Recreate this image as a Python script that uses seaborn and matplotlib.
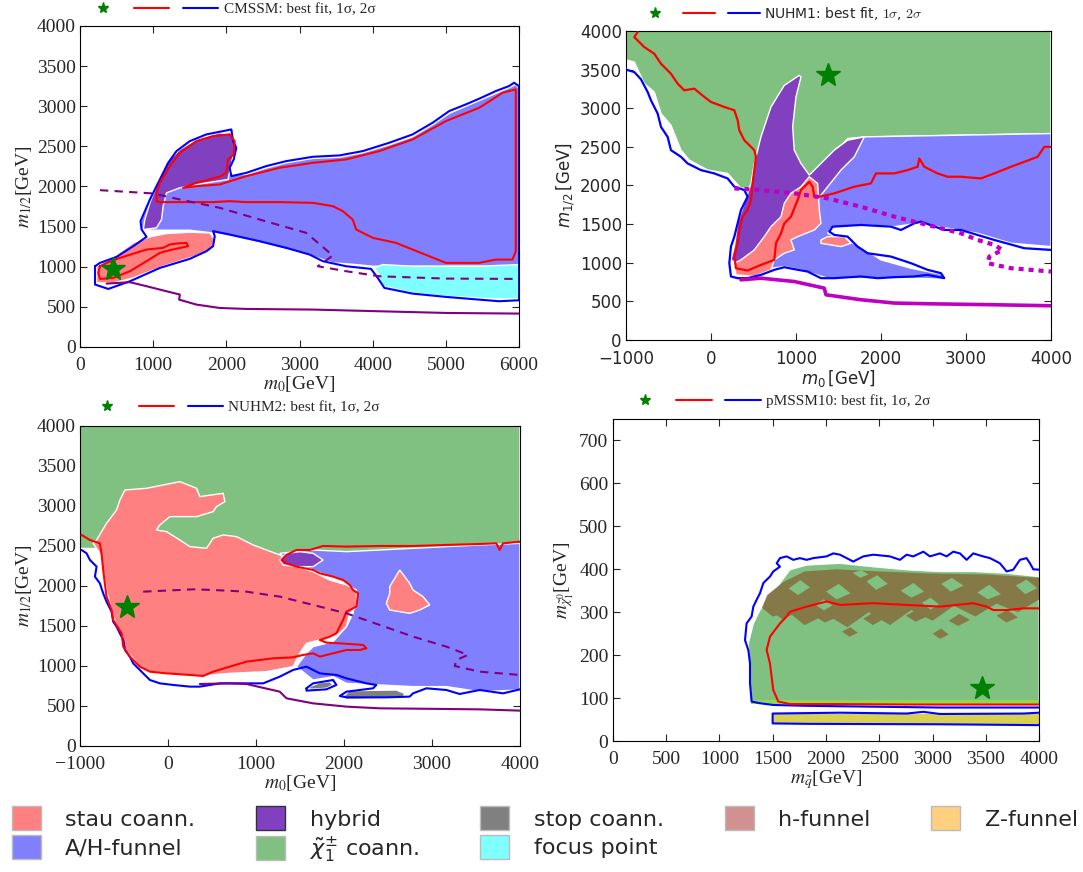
import matplotlib
matplotlib.use('Agg')
import matplotlib.pyplot as plt
import seaborn as sns
from matplotlib.lines import Line2D
from matplotlib.patches import Patch
from matplotlib.font_manager import FontProperties

sns.set_style('ticks')
plt.rcParams['font.family'] = ['DejaVu Sans']

# region colours
C_STAU = '#ff8080'
C_AH = '#8080ff'
C_HYB = '#8040c0'
C_STOP = '#808080'
C_HFUN = '#d29191'
C_ZFUN = '#ffd080'
C_CHI = '#80c080'
C_FOCUS = '#80ffff'
C_MIX = '#857a47'

# ---------------- CMSSM (m0, m1/2) ----------------
cmssm_best = (445, 973)
cmssm_ah = [(841, 1464), (832, 1568), (890, 1692), (960, 1838), (1050, 2004), (1120, 2129), (1210, 2295),
            (1320, 2441), (1500, 2540), (1720, 2620), (1950, 2660), (2060, 2680), (2080, 2560), (2050, 2230),
            (2070, 2150), (2273, 2150), (2545, 2230), (2818, 2295), (3182, 2350), (3545, 2365), (3864, 2420),
            (4227, 2520), (4545, 2620), (4818, 2770), (5045, 2910), (5273, 3000), (5455, 3070), (5682, 3160),
            (5864, 3230), (5950, 3270), (6000, 3230), (6000, 1006), (4000, 1006), (3773, 1027), (3455, 1048),
            (3182, 1131), (2818, 1214), (2455, 1297), (2045, 1380), (1818, 1420), (1500, 1455), (1000, 1455)]
cmssm_hybrid = [(864, 1464), (886, 1588), (955, 1796), (1045, 2004), (1182, 2295), (1364, 2461), (1591, 2586),
                (1909, 2669), (2068, 2649), (2136, 2503), (2091, 2378), (2023, 2087), (1591, 2025), (1364, 1983),
                (1182, 1921), (1136, 1755), (1114, 1588), (1045, 1484)]
cmssm_stau = [(227, 1006), (455, 1123), (727, 1297), (955, 1372), (1182, 1414), (1500, 1430), (1773, 1422),
              (1841, 1339), (1795, 1214), (1545, 1123), (1136, 1006), (727, 861), (455, 798), (227, 798)]
cmssm_focus = [(4023, 985), (4136, 1027), (4545, 1006), (5000, 1006), (5455, 1006), (6000, 1027), (6000, 599),
               (5682, 599), (5000, 632), (4545, 674), (4136, 757), (4068, 923)]
cmssm_2sig = [(205, 1006), (273, 1048), (500, 1123), (727, 1256), (909, 1372), (841, 1464), (827, 1568),
              (886, 1692), (955, 1838), (1045, 2004), (1114, 2129), (1205, 2295), (1318, 2441), (1500, 2565),
              (1727, 2649), (1955, 2690), (2068, 2711), (2091, 2565), (2136, 2482), (2100, 2337), (2045, 2233),
              (2068, 2129), (2273, 2170), (2545, 2254), (2818, 2316), (3182, 2370), (3545, 2387), (3864, 2441),
              (4227, 2545), (4545, 2649), (4818, 2794), (5045, 2940), (5273, 3023), (5455, 3094), (5682, 3189),
              (5864, 3252), (5932, 3293), (6000, 3250), (6000, 582), (5727, 570), (5455, 590), (5000, 624),
              (4545, 665), (4159, 736), (4068, 861), (3977, 973), (3636, 1006), (3318, 1069), (3136, 1152),
              (2818, 1235), (2455, 1318), (2045, 1401), (1818, 1443), (1841, 1380), (1818, 1256), (1727, 1193),
              (1500, 1098), (1091, 985), (682, 819), (386, 723), (205, 778), (205, 1006)]
cmssm_1sig_a = [(1045, 1817), (1045, 1921), (1091, 2046), (1227, 2254), (1364, 2420), (1591, 2565), (1818, 2628),
                (2045, 2649), (2113, 2565), (2100, 2399), (2023, 2337), (2000, 2170), (1909, 2121), (1591, 2046),
                (1409, 1983), (1591, 2004), (1909, 2025), (2273, 2129), (2727, 2233), (3182, 2295), (3636, 2337),
                (4091, 2441), (4545, 2586), (5000, 2815), (5455, 2981), (5636, 3085), (5773, 3168), (5955, 3210),
                (5955, 1193), (5909, 1089), (5682, 1089), (5455, 1048), (5000, 1048), (4773, 1131), (4318, 1297),
                (4000, 1360), (3773, 1464), (3727, 1588), (3591, 1692), (3455, 1755), (3182, 1796), (2727, 1805),
                (2273, 1805), (2045, 1817), (1818, 1805), (1364, 1805), (1091, 1805), (1045, 1817)]
cmssm_1sig_b = [(273, 1006), (364, 1048), (545, 1110), (909, 1214), (1136, 1235), (1227, 1277), (1318, 1289),
                (1455, 1297), (1477, 1256), (1227, 1206), (1091, 1173), (909, 1069), (682, 944), (455, 861),
                (273, 848), (250, 923), (273, 1006)]
cmssm_dm_dash = [(273, 1954), (1000, 1913), (1364, 1838), (1909, 1734), (2455, 1588), (3091, 1422),
                 (3455, 1139), (3250, 1006), (3636, 944), (4091, 881), (5000, 852), (6000, 848)]
cmssm_dm_solid = [(364, 790), (682, 807), (909, 757), (1182, 694), (1364, 653), (1354, 590), (1591, 528),
                  (1909, 486), (2273, 474), (3182, 466), (4091, 445), (5000, 424), (6000, 416)]

# ---------------- NUHM1 (m0, m1/2) ----------------
nuhm1_best = (1373, 3425)
nuhm1_chi = [(-1000, 4000), (4000, 4000), (4000, 2672), (1804, 2629), (1608, 2608), (1216, 2134), (1137, 2134),
             (510, 1984), (353, 1962), (196, 2156), (-39, 2199), (-255, 2328), (-353, 2457), (-471, 2780),
             (-588, 2930), (-667, 3210), (-784, 3318), (-902, 3597), (-1000, 3627)]
nuhm1_ah = [(1255, 2156), (1451, 2457), (1608, 2586), (1804, 2629), (4000, 2672), (4000, 1209), (3529, 1252),
            (3137, 1381), (2784, 1446), (2431, 1510), (2157, 1467), (1765, 1489), (1412, 1446), (1373, 1381),
            (1490, 1317), (1725, 1231), (2000, 1037), (2353, 929), (2745, 843), (2725, 787), (2353, 800),
            (1765, 800), (1373, 800), (1059, 908), (863, 951), (706, 929), (510, 822), (667, 1037), (902, 1166),
            (980, 1424), (1137, 1596), (1216, 1855)]
nuhm1_hybrid = [(1039, 3425), (863, 3296), (706, 3016), (588, 2629), (510, 2285), (471, 2027), (392, 1769),
                (314, 1510), (275, 1209), (235, 1037), (294, 994), (588, 1037), (745, 1252), (902, 1424),
                (1059, 1596), (1216, 1769), (1373, 1984), (1529, 2199), (1686, 2371), (1804, 2629), (1608, 2586),
                (1451, 2457), (1294, 2285), (1157, 2134), (1059, 2285), (980, 2457), (961, 2758), (1000, 3146),
                (1059, 3404)]
nuhm1_stau = [(1157, 2113), (1255, 2027), (1275, 1682), (1294, 1510), (1216, 1424), (1020, 1338), (941, 1295),
              (980, 1166), (863, 1123), (745, 1037), (706, 908), (510, 822), (294, 843), (275, 994), (353, 1037),
              (510, 1166), (627, 1338), (706, 1467), (824, 1596), (863, 1769), (941, 1898), (1059, 1984)]
nuhm1_stau2 = [(1294, 1295), (1373, 1338), (1569, 1338), (1647, 1252), (1529, 1209), (1294, 1252)]
nuhm1_2sig = [(-1000, 3500), (-902, 3468), (-824, 3375), (-745, 3210), (-706, 3102), (-627, 2930), (-588, 2758),
              (-510, 2629), (-471, 2457), (-353, 2371), (-275, 2285), (-118, 2199), (39, 2156), (196, 2091),
              (275, 1984), (392, 1941), (431, 1855), (392, 1769), (353, 1682), (314, 1510), (275, 1338),
              (235, 1209), (216, 994), (235, 822), (314, 800), (431, 800), (588, 843), (745, 908), (863, 942),
              (980, 917), (1137, 886), (1294, 800), (1451, 800), (1765, 822), (1961, 800), (2157, 813),
              (2392, 822), (2549, 843), (2745, 800), (2706, 865), (2549, 908), (2353, 994), (2118, 1080),
              (1843, 1123), (1725, 1209), (1608, 1338), (1451, 1360), (1392, 1403), (1431, 1467), (1765, 1489),
              (2118, 1467), (2235, 1424), (2392, 1510), (2471, 1532), (2745, 1424), (2941, 1424), (3333, 1295),
              (3686, 1188), (4000, 1166)]
nuhm1_1sig = [(-863, 3985), (-902, 3920), (-784, 3791), (-667, 3705), (-588, 3576), (-471, 3447), (-392, 3318),
              (-314, 3232), (-196, 3253), (-78, 3146), (0, 3081), (157, 3016), (275, 2973), (314, 2844),
              (333, 2715), (392, 2586), (510, 2457), (529, 2371), (510, 2199), (490, 2027), (471, 1812),
              (431, 1682), (373, 1596), (333, 1424), (314, 1252), (275, 1080), (294, 929), (431, 899),
              (588, 972), (745, 1037), (765, 1252), (824, 1381), (863, 1510), (941, 1596), (1020, 1812),
              (1059, 1941), (1157, 2048), (1196, 1984), (1216, 1855), (1275, 1855), (1451, 1898), (1686, 1984),
              (1882, 2027), (1941, 2156), (2157, 2156), (2314, 2199), (2431, 2242), (2451, 2349), (2510, 2242),
              (2667, 2156), (2784, 2113), (2941, 2113), (3176, 2091), (3333, 2156), (3529, 2242), (3686, 2306),
              (3843, 2371), (3922, 2500), (4000, 2500)]
nuhm1_dm_dash = [(275, 1962), (588, 1941), (980, 1898), (1373, 1833), (1765, 1725), (2157, 1596), (2549, 1489),
                 (2941, 1381), (3137, 1295), (3333, 1231), (3431, 1166), (3275, 1080), (3255, 994), (3529, 929),
                 (4000, 886)]
nuhm1_dm_solid = [(353, 779), (588, 800), (980, 757), (1333, 671), (1353, 585), (1765, 521), (2157, 478),
                  (2549, 469), (3333, 456), (4000, 443)]

# ---------------- NUHM2 (m0, m1/2) ----------------
nuhm2_best = (-473, 1742)
nuhm2_chi = [(-1000, 4000), (4000, 4000), (4000, 2500), (2000, 2420), (1300, 2330), (600, 2450), (-1000, 2470)]
nuhm2_ah = [(1269, 2408), (1648, 2450), (2027, 2429), (2405, 2450), (2784, 2471), (3163, 2492), (3542, 2513),
            (4000, 2533), (4000, 700), (3542, 679), (3163, 742), (2784, 742), (2405, 763), (2027, 783),
            (1875, 867), (1648, 825), (1458, 992), (1572, 1158), (1648, 1242), (1875, 1304), (2027, 1492),
            (2102, 1658), (2140, 1908), (2027, 2033), (1648, 2200), (1420, 2283), (1345, 2325)]
nuhm2_stau = [(-814, 2575), (-701, 2783), (-587, 2950), (-549, 3075), (-492, 3200), (-246, 3221), (133, 3304),
              (322, 3221), (360, 3117), (625, 3158), (644, 3054), (549, 2992), (511, 2929), (322, 2867),
              (133, 2867), (19, 2867), (-95, 2763), (-133, 2700), (-19, 2679), (133, 2575), (246, 2492),
              (436, 2471), (511, 2596), (625, 2638), (777, 2617), (966, 2513), (1117, 2450), (1269, 2388),
              (1345, 2325), (1458, 2242), (1648, 2179), (1837, 2075), (2027, 2013), (2140, 1950), (2140, 1742),
              (2064, 1658), (2027, 1492), (1951, 1408), (1724, 1325), (1572, 1283), (1496, 1158), (1420, 992),
              (1117, 929), (701, 908), (360, 875), (-57, 908), (-208, 929), (-322, 992), (-511, 1242),
              (-549, 1408), (-625, 1617), (-701, 1950), (-739, 2200), (-777, 2408), (-852, 2533)]
nuhm2_stau2 = [(2519, 1992), (2633, 2200), (2689, 2117), (2746, 2033), (2784, 1950), (2898, 1867), (2974, 1763),
               (2860, 1700), (2746, 1658), (2633, 1679), (2519, 1700), (2481, 1783), (2519, 1908)]
nuhm2_hybrid = [(1269, 2325), (1345, 2408), (1496, 2429), (1648, 2408), (1761, 2325), (1648, 2242), (1458, 2242),
                (1307, 2263)]
nuhm2_stop_a = [(1610, 742), (1724, 792), (1837, 804), (1875, 763), (1799, 721), (1610, 708)]
nuhm2_stop_b = [(1989, 617), (2064, 692), (2595, 700), (2689, 658), (2671, 596), (2027, 583)]
nuhm2_2sig = [(-985, 2450), (-928, 2408), (-890, 2325), (-814, 2242), (-833, 2117), (-777, 2033), (-739, 1908),
              (-701, 1804), (-644, 1679), (-625, 1554), (-587, 1492), (-549, 1408), (-511, 1325), (-492, 1200),
              (-436, 1117), (-398, 1033), (-284, 908), (-208, 825), (-95, 783), (57, 763), (246, 742),
              (360, 742), (587, 783), (890, 783), (1080, 783), (1269, 867), (1420, 950), (1572, 992),
              (1724, 908), (1913, 888), (2027, 846), (2254, 783), (2367, 763), (2330, 721), (2027, 679),
              (1951, 625), (2027, 608), (2481, 608), (2746, 617), (2784, 658), (2936, 721), (3163, 700),
              (3314, 650), (3542, 700), (3807, 658), (4000, 708)]
nuhm2_2sig_b = [(1572, 721), (1648, 783), (1875, 825), (1913, 763), (1799, 708), (1572, 692), (1572, 721)]
nuhm2_1sig = [(-985, 2638), (-890, 2575), (-777, 2533), (-758, 2408), (-739, 2200), (-720, 2033), (-701, 1867),
              (-644, 1700), (-625, 1575), (-530, 1408), (-511, 1242), (-436, 1117), (-322, 992), (-208, 929),
              (-19, 908), (246, 888), (398, 875), (511, 929), (701, 992), (890, 1054), (1193, 1096),
              (1420, 1108), (1534, 1138), (1648, 1158), (1724, 1117), (1875, 1158), (2027, 1200), (2178, 1200),
              (2254, 1221), (2216, 1263), (1951, 1283), (1799, 1292), (1724, 1325), (1837, 1367), (1913, 1408),
              (1951, 1492), (1989, 1575), (2027, 1679), (2140, 1742), (2159, 1908), (2102, 1950), (2064, 2013),
              (1989, 2075), (1875, 2117), (1724, 2158), (1648, 2200), (1458, 2242), (1345, 2283), (1288, 2325),
              (1345, 2388), (1458, 2450), (1610, 2450), (1761, 2500), (2027, 2492), (2405, 2500), (2784, 2500),
              (3163, 2513), (3542, 2525), (3731, 2533), (3769, 2450), (3807, 2533), (4000, 2554)]
nuhm2_dm_dash = [(-284, 1929), (284, 1958), (511, 1950), (890, 1929), (1269, 1867), (1648, 1763), (2027, 1658),
                 (2405, 1513), (2784, 1367), (3163, 1242), (3409, 1138), (3277, 1075), (3258, 1000), (3542, 929),
                 (4000, 888)]
nuhm2_dm_solid = [(360, 775), (701, 783), (890, 775), (1269, 679), (1345, 596), (1648, 533), (2027, 492),
                  (2405, 471), (2784, 467), (3542, 458), (4000, 442)]

# ---------------- pMSSM10 (m_squark, m_neutralino) ----------------
pm10_best = (3459, 124)
pm10_chi = [(1288, 92), (1272, 228), (1319, 274), (1381, 305), (1475, 336), (1569, 368), (1663, 399),
            (1819, 410), (2131, 414), (2444, 406), (2756, 399), (3069, 395), (3381, 395), (3694, 391),
            (4000, 383), (4000, 92)]
pm10_mix = [(1450, 340), (1600, 370), (1800, 395), (2100, 400), (2500, 395), (3000, 390), (3500, 388),
            (4000, 380), (4000, 330), (3800, 300), (3600, 320), (3400, 290), (3200, 315), (3000, 280),
            (2800, 305), (2600, 270), (2400, 300), (2200, 265), (2000, 295), (1800, 270), (1650, 300),
            (1500, 290), (1400, 310)]
# green holes inside the mixed band
pm10_holes = [
    [(1650, 355), (1760, 375), (1850, 358), (1740, 340)],
    [(2000, 348), (2120, 366), (2230, 344), (2100, 330)],
    [(2380, 372), (2480, 386), (2580, 366), (2470, 352)],
    [(2700, 350), (2820, 368), (2920, 348), (2800, 334)],
    [(3080, 366), (3180, 380), (3290, 362), (3170, 348)],
    [(3420, 346), (3530, 364), (3640, 342), (3520, 330)],
    [(3780, 362), (3880, 376), (3980, 356), (3870, 342)],
    [(2250, 392), (2330, 398), (2400, 388), (2320, 380)],
    [(1900, 318), (1980, 330), (2060, 316), (1980, 304)],
    [(2900, 322), (2980, 334), (3060, 318), (2980, 306)],
]
# scattered mixed patches below the band
pm10_spots = [
    [(1500, 300), (1620, 312), (1700, 296), (1590, 284)],
    [(1900, 290), (2000, 305), (2100, 288), (1990, 276)],
    [(2350, 285), (2450, 300), (2540, 284), (2440, 270)],
    [(2750, 292), (2850, 306), (2950, 290), (2840, 278)],
    [(3150, 280), (3250, 296), (3350, 282), (3240, 268)],
    [(3600, 292), (3700, 305), (3800, 288), (3690, 276)],
    [(2150, 255), (2230, 265), (2300, 252), (2220, 243)],
    [(3000, 250), (3080, 262), (3150, 248), (3070, 238)],
]
pm10_edge = [(1300, 96), (4000, 96), (4000, 86), (1300, 86)]
pm10_zband = [(1500, 62), (4000, 62), (4000, 40), (1500, 40)]
pm10_2sig = [(4000, 399), (3944, 400), (3913, 414), (3881, 426), (3819, 422), (3756, 399), (3694, 395),
             (3631, 414), (3538, 426), (3475, 430), (3381, 437), (3319, 422), (3256, 437), (3194, 441),
             (3131, 430), (3069, 437), (2975, 430), (2913, 441), (2819, 430), (2756, 434), (2694, 422),
             (2600, 430), (2444, 434), (2350, 430), (2256, 418), (2131, 434), (2069, 437), (2006, 430),
             (1881, 426), (1819, 422), (1756, 426), (1694, 422), (1631, 430), (1569, 426), (1538, 414),
             (1569, 406), (1506, 395), (1475, 383), (1413, 368), (1381, 344), (1350, 329), (1319, 313),
             (1303, 290), (1256, 274), (1241, 235), (1272, 212), (1288, 181), (1288, 134), (1303, 92),
             (1381, 88), (1506, 84), (1819, 82), (2444, 80), (3069, 78), (4000, 78)]
pm10_2sig_b = [(4000, 66), (3850, 64), (3069, 63), (2913, 68), (2756, 64), (2131, 66), (1500, 64), (1500, 41),
               (1819, 40), (3069, 39), (4000, 37)]
pm10_1sig = [(4000, 309), (3850, 309), (3694, 305), (3569, 305), (3506, 313), (3381, 321), (3069, 313),
             (2756, 317), (2444, 321), (2131, 317), (2006, 325), (1819, 313), (1663, 301), (1631, 290),
             (1569, 274), (1475, 243), (1444, 212), (1475, 181), (1506, 119), (1553, 92), (1663, 86),
             (2131, 86), (2756, 85), (3381, 85), (4000, 85)]

SERIF = 'Liberation Serif'


def region(ax, pts, color, ec='white', lw=1.0):
    xs, ys = zip(*pts)
    ax.fill(xs, ys, color=color, ec=ec, lw=lw, zorder=1)


def curve(ax, pts, color, lw=1.5, ls='-', z=3):
    xs, ys = zip(*pts)
    sns.lineplot(x=list(xs), y=list(ys), sort=False, estimator=None, color=color, lw=lw,
                 linestyle=ls, ax=ax, legend=False, zorder=z)


def best(ax, pt):
    ax.plot([pt[0]], [pt[1]], marker='*', color='green', ms=18, ls='none', zorder=5)


def frame(ax, xlim, ylim, xstep, ystep, xlabel, ylabel, serif, fs):
    ax.set_xlim(*xlim)
    ax.set_ylim(*ylim)
    ax.set_xticks(range(xlim[0], xlim[1] + 1, xstep))
    ax.set_yticks(range(ylim[0], ylim[1] + 1, ystep))
    ax.tick_params(direction='in', top=True, right=True, length=5, width=0.8, labelsize=fs, pad=3)
    ax.tick_params(axis='x', pad=7)
    fam = SERIF if serif else 'DejaVu Sans'
    mf = 'stix' if serif else 'dejavusans'
    for lbl in ax.get_xticklabels() + ax.get_yticklabels():
        lbl.set_fontfamily(fam)
    ax.set_xlabel(xlabel, fontfamily=fam, math_fontfamily=mf, fontsize=fs, labelpad=0)
    ax.set_ylabel(ylabel, fontfamily=fam, math_fontfamily=mf, fontsize=fs, labelpad=2)
    for s in ax.spines.values():
        s.set_color('black')
        s.set_linewidth(0.8)
    ax.set_facecolor('white')


def top_legend(ax, text, serif, x0, y0):
    star = Line2D([], [], ls='none', marker='*', color='green', ms=8)
    red = Line2D([], [], color='red', lw=1.5)
    blue = Line2D([], [], color='blue', lw=1.5)
    if serif:
        prop = FontProperties(family=SERIF, size=11)
    else:
        prop = FontProperties(family='DejaVu Sans', size=10, math_fontfamily='cm')
    ax.legend([star, red, blue], ['', '', text], ncol=3, loc='center left', bbox_to_anchor=(x0, y0),
              frameon=False, prop=prop, handlelength=2.3, handletextpad=0.35, columnspacing=0.55,
              borderpad=0, borderaxespad=0)


fig = plt.figure(figsize=(10.83, 8.72), dpi=100)
ax1 = fig.add_axes([0.0739, 0.6021, 0.4054, 0.3681])
ax2 = fig.add_axes([0.578, 0.6101, 0.3924, 0.3544])
ax3 = fig.add_axes([0.0741, 0.1445, 0.406, 0.367])
ax4 = fig.add_axes([0.5657, 0.1502, 0.3939, 0.3693])

# CMSSM
region(ax1, cmssm_ah, C_AH)
region(ax1, cmssm_hybrid, C_HYB)
region(ax1, cmssm_stau, C_STAU)
region(ax1, cmssm_focus, C_FOCUS)
curve(ax1, cmssm_2sig, 'blue')
curve(ax1, cmssm_1sig_a, 'red')
curve(ax1, cmssm_1sig_b, 'red')
curve(ax1, cmssm_dm_dash, '#800080', ls=(0, (4, 3)))
curve(ax1, cmssm_dm_solid, '#800080')
best(ax1, cmssm_best)
frame(ax1, (0, 6000), (0, 4000), 1000, 500, r'$m_0$[GeV]', r'$m_{1/2}$[GeV]', True, 14)
top_legend(ax1, 'CMSSM: best fit, 1σ, 2σ', True, 0.012, 1.052)

# NUHM1
region(ax2, nuhm1_chi, C_CHI)
region(ax2, nuhm1_ah, C_AH)
region(ax2, nuhm1_hybrid, C_HYB)
region(ax2, nuhm1_stau, C_STAU)
region(ax2, nuhm1_stau2, C_STAU)
curve(ax2, nuhm1_2sig, 'blue', lw=1.6)
curve(ax2, nuhm1_1sig, 'red', lw=1.6)
curve(ax2, nuhm1_dm_dash, '#c000c0', lw=3, ls=(0, (1.2, 1.2)))
curve(ax2, nuhm1_dm_solid, '#c000c0', lw=2.6)
best(ax2, nuhm1_best)
frame(ax2, (-1000, 4000), (0, 4000), 1000, 500, r'$m_0\,$[GeV]', r'$m_{1/2}\,$[GeV]', False, 12)
top_legend(ax2, r'NUHM1: best fit, $1\sigma$, $2\sigma$', False, 0.03, 1.058)

# NUHM2
region(ax3, nuhm2_chi, C_CHI)
region(ax3, nuhm2_ah, C_AH)
region(ax3, nuhm2_stau, C_STAU)
region(ax3, nuhm2_stau2, C_STAU)
region(ax3, nuhm2_hybrid, C_HYB)
region(ax3, nuhm2_stop_a, C_STOP)
region(ax3, nuhm2_stop_b, C_STOP)
curve(ax3, nuhm2_2sig, 'blue')
curve(ax3, nuhm2_2sig_b, 'blue')
curve(ax3, nuhm2_1sig, 'red')
curve(ax3, nuhm2_dm_dash, '#800080', ls=(0, (4, 3)))
curve(ax3, nuhm2_dm_solid, '#800080')
best(ax3, nuhm2_best)
frame(ax3, (-1000, 4000), (0, 4000), 1000, 500, r'$m_0$[GeV]', r'$m_{1/2}$[GeV]', True, 14)
top_legend(ax3, 'NUHM2: best fit, 1σ, 2σ', True, 0.022, 1.059)

# pMSSM10
region(ax4, pm10_chi, C_CHI)
region(ax4, pm10_mix, C_MIX, ec='none')
for blob in pm10_holes:
    region(ax4, blob, C_CHI, ec='none')
for blob in pm10_spots:
    region(ax4, blob, C_MIX, ec='none')
region(ax4, pm10_edge, '#90d850', ec='none')
region(ax4, pm10_zband, '#d8d050', ec='none')
curve(ax4, pm10_2sig, 'blue')
curve(ax4, pm10_2sig_b, 'blue')
curve(ax4, pm10_1sig, 'red')
best(ax4, pm10_best)
frame(ax4, (0, 4000), (0, 750), 500, 100, r'$m_{\tilde{q}}$[GeV]', r'$m_{\tilde{\chi}_1^0}$[GeV]', True, 14)
ax4.set_yticks(range(0, 701, 100))
for lbl in ax4.get_yticklabels():
    lbl.set_fontfamily(SERIF)
top_legend(ax4, 'pMSSM10: best fit, 1σ, 2σ', True, 0.035, 1.056)

# colour key for the dark-matter mechanisms
names = ['stau coann.', 'A/H-funnel', 'hybrid', r'$\tilde{\chi}_1^{\pm}$ coann.', 'stop coann.',
         'focus point', 'h-funnel', '', 'Z-funnel', '']
cols = [C_STAU, C_AH, C_HYB, C_CHI, C_STOP, C_FOCUS, C_HFUN, None, C_ZFUN, None]
handles = []
for c in cols:
    if c is None:
        handles.append(Patch(visible=False))
    else:
        handles.append(Patch(fc=c, ec='#333333' if c == C_HYB else '#bbbbbb', lw=1))
fig.legend(handles, names, ncol=5, loc='upper left', bbox_to_anchor=(0.011, 0.0755), frameon=False,
           prop=FontProperties(family='DejaVu Sans', size=16), handlelength=1.3, handleheight=1.3,
           handletextpad=1.1, columnspacing=2.75, labelspacing=0.2, borderpad=0, borderaxespad=0)

fig.savefig('out.png', dpi=100)
